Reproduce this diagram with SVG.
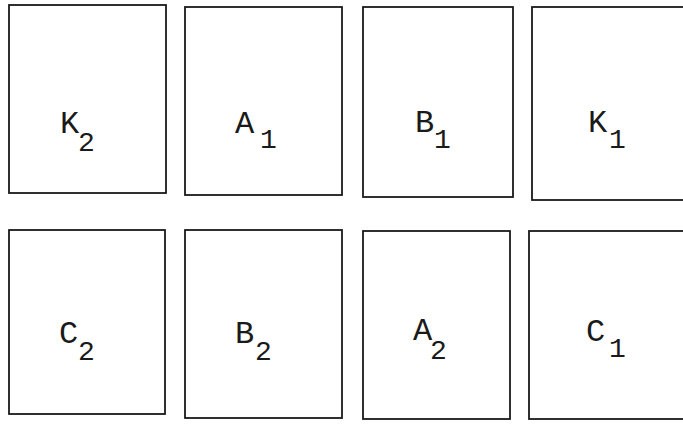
<svg xmlns="http://www.w3.org/2000/svg" width="683" height="425" viewBox="0 0 683 425">
<style>
.box{fill:none;stroke:#1a1a1a;stroke-width:1.8}
.m{font-family:"Liberation Mono","DejaVu Sans Mono",monospace;font-size:32px;fill:#1a1a1a}
.s{font-family:"Liberation Mono","DejaVu Sans Mono",monospace;font-size:28px;fill:#1a1a1a}
</style>
<rect width="683" height="425" fill="#fff"/>
<g id="K2"><rect class="box" x="9" y="5" width="157" height="188"/><text class="m" x="60" y="133">K</text><text class="s" x="78" y="151">2</text></g>
<g id="A1"><rect class="box" x="185" y="7" width="157" height="188"/><text class="m" x="235" y="133">A</text><text class="s" x="260" y="148">1</text></g>
<g id="B1"><rect class="box" x="363" y="7" width="150" height="190"/><text class="m" x="415" y="132">B</text><text class="s" x="434" y="148">1</text></g>
<g id="K1"><rect class="box" x="532" y="7" width="160" height="193"/><text class="m" x="588" y="132">K</text><text class="s" x="609" y="148">1</text></g>
<g id="C2"><rect class="box" x="9" y="230" width="156" height="184"/><text class="m" x="59" y="343">C</text><text class="s" x="78" y="360">2</text></g>
<g id="B2"><rect class="box" x="185" y="230" width="157" height="188"/><text class="m" x="235" y="343">B</text><text class="s" x="255" y="360">2</text></g>
<g id="A2"><rect class="box" x="363" y="231" width="147" height="188"/><text class="m" x="413" y="340">A</text><text class="s" x="430" y="359">2</text></g>
<g id="C1"><rect class="box" x="529" y="231" width="163" height="188"/><text class="m" x="586" y="341">C</text><text class="s" x="609" y="357">1</text></g>
<g id="connectors"/>
</svg>
